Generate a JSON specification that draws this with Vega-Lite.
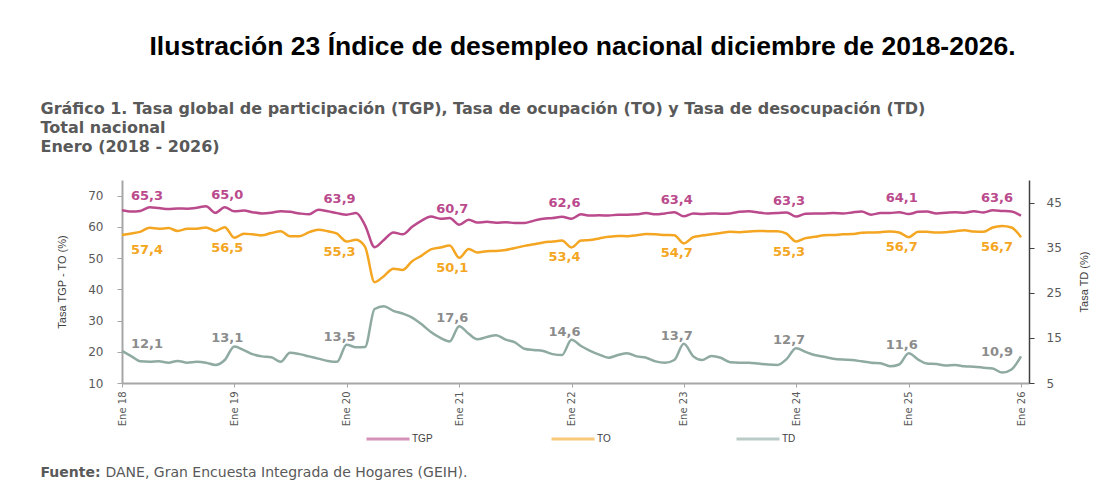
{
  "$schema": "https://vega.github.io/schema/vega-lite/v6.json",
  "width": 907,
  "height": 203,
  "autosize": {"type": "none"},
  "padding": {"left": 122, "top": 180, "right": 87, "bottom": 115},
  "background": "white",
  "config": {
    "locale": {"number": {"decimal": ",", "thousands": ".", "grouping": [3], "currency": ["$", ""]}},
    "view": {"stroke": null},
    "font": "DejaVu Sans"
  },
  "title": {
    "text": "Ilustración 23 Índice de desempleo nacional diciembre de 2018-2026.",
    "anchor": "middle", "frame": "group", "dx": 7, "offset": 40,
    "font": "Liberation Sans, sans-serif",
    "fontSize": 26.5, "fontWeight": "bold", "color": "#000000"
  },
  "data": {
    "format": {"parse": {"d": "utc:'%Y-%m-%d'"}},
    "values": [
      {"d":"2018-01-01","TGP":65.3,"TO":57.4,"TD":12.1},
      {"d":"2018-02-01","TGP":64.9,"TO":57.9,"TD":10.9},
      {"d":"2018-03-01","TGP":65.1,"TO":58.4,"TD":9.8},
      {"d":"2018-04-01","TGP":66.3,"TO":59.7,"TD":9.7},
      {"d":"2018-05-01","TGP":66.0,"TO":59.4,"TD":9.8},
      {"d":"2018-06-01","TGP":65.7,"TO":59.6,"TD":9.5},
      {"d":"2018-07-01","TGP":65.9,"TO":58.7,"TD":9.9},
      {"d":"2018-08-01","TGP":65.8,"TO":59.4,"TD":9.5},
      {"d":"2018-09-01","TGP":66.1,"TO":59.4,"TD":9.7},
      {"d":"2018-10-01","TGP":66.6,"TO":59.8,"TD":9.5},
      {"d":"2018-11-01","TGP":64.5,"TO":58.7,"TD":9.0},
      {"d":"2018-12-01","TGP":66.3,"TO":59.9,"TD":10.1},
      {"d":"2019-01-01","TGP":65.0,"TO":56.5,"TD":13.1},
      {"d":"2019-02-01","TGP":65.2,"TO":57.8,"TD":12.3},
      {"d":"2019-03-01","TGP":64.7,"TO":57.6,"TD":11.4},
      {"d":"2019-04-01","TGP":64.3,"TO":57.3,"TD":10.9},
      {"d":"2019-05-01","TGP":64.5,"TO":58.0,"TD":10.7},
      {"d":"2019-06-01","TGP":65.0,"TO":58.6,"TD":9.7},
      {"d":"2019-07-01","TGP":64.8,"TO":57.0,"TD":11.7},
      {"d":"2019-08-01","TGP":64.3,"TO":57.0,"TD":11.4},
      {"d":"2019-09-01","TGP":64.0,"TO":58.3,"TD":10.9},
      {"d":"2019-10-01","TGP":65.5,"TO":59.1,"TD":10.4},
      {"d":"2019-11-01","TGP":65.0,"TO":58.6,"TD":9.9},
      {"d":"2019-12-01","TGP":64.4,"TO":57.8,"TD":9.7},
      {"d":"2020-01-01","TGP":63.9,"TO":55.3,"TD":13.5},
      {"d":"2020-02-01","TGP":64.4,"TO":55.9,"TD":12.9},
      {"d":"2020-03-01","TGP":60.5,"TO":53.6,"TD":13.0},
      {"d":"2020-04-01","TGP":53.5,"TO":42.3,"TD":21.4},
      {"d":"2020-05-01","TGP":55.8,"TO":44.2,"TD":22.0},
      {"d":"2020-06-01","TGP":58.2,"TO":46.6,"TD":21.0},
      {"d":"2020-07-01","TGP":57.6,"TO":46.2,"TD":20.4},
      {"d":"2020-08-01","TGP":60.0,"TO":49.0,"TD":19.5},
      {"d":"2020-09-01","TGP":62.0,"TO":50.8,"TD":18.0},
      {"d":"2020-10-01","TGP":63.3,"TO":52.8,"TD":16.3},
      {"d":"2020-11-01","TGP":62.6,"TO":53.4,"TD":15.0},
      {"d":"2020-12-01","TGP":62.8,"TO":54.0,"TD":14.2},
      {"d":"2021-01-01","TGP":60.7,"TO":50.1,"TD":17.6},
      {"d":"2021-02-01","TGP":62.3,"TO":52.9,"TD":15.9},
      {"d":"2021-03-01","TGP":61.4,"TO":51.8,"TD":14.7},
      {"d":"2021-04-01","TGP":61.6,"TO":52.2,"TD":15.2},
      {"d":"2021-05-01","TGP":61.3,"TO":52.3,"TD":15.6},
      {"d":"2021-06-01","TGP":61.5,"TO":52.6,"TD":14.6},
      {"d":"2021-07-01","TGP":61.2,"TO":53.2,"TD":14.0},
      {"d":"2021-08-01","TGP":61.2,"TO":53.9,"TD":12.6},
      {"d":"2021-09-01","TGP":62.0,"TO":54.4,"TD":12.3},
      {"d":"2021-10-01","TGP":62.6,"TO":55.0,"TD":12.1},
      {"d":"2021-11-01","TGP":62.8,"TO":55.3,"TD":11.4},
      {"d":"2021-12-01","TGP":63.2,"TO":55.6,"TD":11.2},
      {"d":"2022-01-01","TGP":62.6,"TO":53.4,"TD":14.6},
      {"d":"2022-02-01","TGP":64.0,"TO":55.6,"TD":13.2},
      {"d":"2022-03-01","TGP":63.6,"TO":55.8,"TD":12.2},
      {"d":"2022-04-01","TGP":63.7,"TO":56.3,"TD":11.3},
      {"d":"2022-05-01","TGP":63.6,"TO":56.8,"TD":10.6},
      {"d":"2022-06-01","TGP":63.9,"TO":57.1,"TD":11.2},
      {"d":"2022-07-01","TGP":63.9,"TO":57.0,"TD":11.6},
      {"d":"2022-08-01","TGP":64.0,"TO":57.3,"TD":10.9},
      {"d":"2022-09-01","TGP":64.4,"TO":57.7,"TD":10.6},
      {"d":"2022-10-01","TGP":64.0,"TO":57.6,"TD":9.8},
      {"d":"2022-11-01","TGP":64.3,"TO":57.4,"TD":9.5},
      {"d":"2022-12-01","TGP":64.7,"TO":57.3,"TD":10.1},
      {"d":"2023-01-01","TGP":63.4,"TO":54.7,"TD":13.7},
      {"d":"2023-02-01","TGP":64.3,"TO":56.7,"TD":10.9},
      {"d":"2023-03-01","TGP":64.1,"TO":57.2,"TD":10.1},
      {"d":"2023-04-01","TGP":64.3,"TO":57.6,"TD":11.0},
      {"d":"2023-05-01","TGP":64.2,"TO":58.0,"TD":10.6},
      {"d":"2023-06-01","TGP":64.3,"TO":58.4,"TD":9.6},
      {"d":"2023-07-01","TGP":64.8,"TO":58.3,"TD":9.5},
      {"d":"2023-08-01","TGP":65.0,"TO":58.5,"TD":9.5},
      {"d":"2023-09-01","TGP":64.6,"TO":58.7,"TD":9.3},
      {"d":"2023-10-01","TGP":64.3,"TO":58.6,"TD":9.1},
      {"d":"2023-11-01","TGP":64.4,"TO":58.6,"TD":9.0},
      {"d":"2023-12-01","TGP":64.6,"TO":57.8,"TD":10.3},
      {"d":"2024-01-01","TGP":63.3,"TO":55.3,"TD":12.7},
      {"d":"2024-02-01","TGP":64.2,"TO":56.4,"TD":11.9},
      {"d":"2024-03-01","TGP":64.3,"TO":56.8,"TD":11.2},
      {"d":"2024-04-01","TGP":64.3,"TO":57.3,"TD":10.8},
      {"d":"2024-05-01","TGP":64.4,"TO":57.4,"TD":10.4},
      {"d":"2024-06-01","TGP":64.3,"TO":57.6,"TD":10.2},
      {"d":"2024-07-01","TGP":64.6,"TO":57.7,"TD":10.1},
      {"d":"2024-08-01","TGP":64.9,"TO":58.1,"TD":9.8},
      {"d":"2024-09-01","TGP":63.9,"TO":58.2,"TD":9.5},
      {"d":"2024-10-01","TGP":64.4,"TO":58.3,"TD":9.4},
      {"d":"2024-11-01","TGP":64.4,"TO":58.5,"TD":8.7},
      {"d":"2024-12-01","TGP":64.7,"TO":58.2,"TD":9.1},
      {"d":"2025-01-01","TGP":64.1,"TO":56.7,"TD":11.6},
      {"d":"2025-02-01","TGP":64.8,"TO":58.4,"TD":10.2},
      {"d":"2025-03-01","TGP":64.9,"TO":58.4,"TD":9.3},
      {"d":"2025-04-01","TGP":64.3,"TO":58.2,"TD":9.2},
      {"d":"2025-05-01","TGP":64.5,"TO":58.3,"TD":8.9},
      {"d":"2025-06-01","TGP":64.7,"TO":58.6,"TD":9.0},
      {"d":"2025-07-01","TGP":64.5,"TO":58.9,"TD":8.7},
      {"d":"2025-08-01","TGP":65.0,"TO":58.5,"TD":8.6},
      {"d":"2025-09-01","TGP":64.6,"TO":58.4,"TD":8.4},
      {"d":"2025-10-01","TGP":65.3,"TO":59.8,"TD":8.2},
      {"d":"2025-11-01","TGP":65.1,"TO":60.3,"TD":7.3},
      {"d":"2025-12-01","TGP":64.9,"TO":59.8,"TD":8.0},
      {"d":"2026-01-01","TGP":63.6,"TO":56.7,"TD":10.9}
    ]
  },
  "resolve": {"scale": {"y": "independent"}, "axis": {"x": "independent", "y": "independent"}},
  "layer": [
    {
      "transform": [{"fold": ["TGP", "TO"], "as": ["s", "v"]}],
      "mark": {"type": "line", "strokeWidth": 2.5, "interpolate": "monotone"},
      "encoding": {
        "x": {"field": "d", "type": "temporal",
          "scale": {"type": "utc", "domain": [{"year": 2018, "month": 1, "date": 1, "utc": true}, {"year": 2026, "month": 1, "date": 27, "utc": true}]},
          "axis": {"orient": "bottom", "title": null, "grid": false,
            "values": [{"year":2018,"month":1,"date":1,"utc":true},{"year":2019,"month":1,"date":1,"utc":true},{"year":2020,"month":1,"date":1,"utc":true},{"year":2021,"month":1,"date":1,"utc":true},{"year":2022,"month":1,"date":1,"utc":true},{"year":2023,"month":1,"date":1,"utc":true},{"year":2024,"month":1,"date":1,"utc":true},{"year":2025,"month":1,"date":1,"utc":true},{"year":2026,"month":1,"date":1,"utc":true}],
            "format": "Ene %y", "labelAngle": 270, "labelFontSize": 10, "labelColor": "#595959",
            "labelPadding": 4, "tickSize": 4, "tickColor": "#A6A6A6", "domainColor": "#A6A6A6", "domainWidth": 2,
            "labelFont": "DejaVu Sans"}},
        "y": {"field": "v", "type": "quantitative", "scale": {"domain": [10, 75], "nice": false, "zero": false},
          "axis": {"orient": "left", "values": [10, 20, 30, 40, 50, 60, 70], "title": "Tasa TGP - TO (%)",
            "titleFont": "Liberation Sans, sans-serif", "titleFontSize": 11,
            "titleFontWeight": "normal", "titleColor": "#404040", "titlePadding": 20,
            "labelFontSize": 12, "labelColor": "#595959", "labelPadding": 14, "tickSize": 5,
            "tickColor": "#A6A6A6", "domainColor": "#A6A6A6", "domainWidth": 2, "grid": false}},
        "color": {"field": "s", "type": "nominal",
          "scale": {"domain": ["TGP", "TO", "TD"], "range": ["#BA4A8C", "#F4A622", "#8FAAA2"]},
          "legend": {"orient": "none", "legendX": 243, "legendY": 236, "direction": "horizontal", "title": null,
            "symbolType": "stroke", "symbolSize": 1849, "symbolStrokeWidth": 3, "symbolOpacity": 0.6,
            "labelFontSize": 10, "labelColor": "#404040", "labelOffset": 1, "columnPadding": 112, "gridAlign": "all",
            "labelFont": "Liberation Sans, sans-serif"}}
      }
    },
    {
      "transform": [{"fold": ["TD"], "as": ["s", "v"]}],
      "mark": {"type": "line", "strokeWidth": 2.5, "interpolate": "monotone"},
      "encoding": {
        "x": {"field": "d", "type": "temporal", "axis": null},
        "y": {"field": "v", "type": "quantitative", "scale": {"domain": [5, 50], "nice": false, "zero": false},
          "axis": {"orient": "right", "values": [5, 15, 25, 35, 45], "title": "Tasa TD (%)", "titleAngle": 270,
            "titleFont": "Liberation Sans, sans-serif", "titleFontSize": 11,
            "titleFontWeight": "normal", "titleColor": "#404040", "titlePadding": 28,
            "labelFontSize": 12, "labelColor": "#595959", "labelPadding": 12, "tickSize": 5,
            "tickColor": "#404040", "domainColor": "#404040", "domainWidth": 1.5, "grid": false}},
        "color": {"field": "s", "type": "nominal"}
      }
    },
    {
      "transform": [{"filter": "utcmonth(datum.d) == 0 && utcyear(datum.d) > 2018 && utcyear(datum.d) < 2026"}],
      "mark": {"type": "text", "dx": -7, "dy": -16, "fontSize": 13, "fontWeight": "bold", "color": "#BA4A8C", "font": "DejaVu Sans"},
      "encoding": {
        "x": {"field": "d", "type": "temporal",
          "axis": {"orient": "top", "domain": false, "ticks": false, "labels": false, "grid": false,
            "title": ["Gráfico 1. Tasa global de participación (TGP), Tasa de ocupación (TO) y Tasa de desocupación (TD)", "Total nacional", "Enero (2018 - 2026)"],
            "titleAnchor": "start", "titleAlign": "left", "titleX": -82, "titleY": -80, "titleBaseline": "top",
            "titleFont": "DejaVu Sans", "titleFontSize": 16, "titleFontWeight": "bold", "titleColor": "#595959", "titleLineHeight": 19}},
        "y": {"field": "TGP", "type": "quantitative", "scale": {"domain": [10, 75], "nice": false, "zero": false}, "axis": null},
        "text": {"field": "TGP", "type": "quantitative", "format": ".1f"}
      }
    },
    {
      "transform": [{"filter": "utcmonth(datum.d) == 0 && utcyear(datum.d) > 2018 && utcyear(datum.d) < 2026"}],
      "mark": {"type": "text", "dx": -7, "dy": 10, "fontSize": 13, "fontWeight": "bold", "color": "#F4A622", "font": "DejaVu Sans"},
      "encoding": {
        "x": {"field": "d", "type": "temporal",
          "axis": {"orient": "bottom", "domain": false, "ticks": false, "labels": false, "grid": false,
            "title": "Fuente:", "titleAnchor": "start", "titleAlign": "left", "titleX": -82, "titleY": 89, "titleBaseline": "middle",
            "titleFont": "DejaVu Sans", "titleFontSize": 14, "titleFontWeight": "bold", "titleColor": "#595959"}},
        "y": {"field": "TO", "type": "quantitative", "scale": {"domain": [10, 75], "nice": false, "zero": false}, "axis": null},
        "text": {"field": "TO", "type": "quantitative", "format": ".1f"}
      }
    },
    {
      "transform": [{"filter": "utcmonth(datum.d) == 0 && utcyear(datum.d) > 2018 && utcyear(datum.d) < 2026"}],
      "mark": {"type": "text", "dx": -7, "dy": -8, "fontSize": 13, "fontWeight": "bold", "color": "#8C8C8C", "font": "DejaVu Sans"},
      "encoding": {
        "x": {"field": "d", "type": "temporal",
          "axis": {"orient": "bottom", "domain": false, "ticks": false, "labels": false, "grid": false,
            "title": "DANE, Gran Encuesta Integrada de Hogares (GEIH).", "titleAnchor": "start", "titleAlign": "left", "titleX": -17, "titleY": 89, "titleBaseline": "middle",
            "titleFont": "DejaVu Sans", "titleFontSize": 14, "titleFontWeight": "normal", "titleColor": "#595959"}},
        "y": {"field": "TD", "type": "quantitative", "scale": {"domain": [5, 50], "nice": false, "zero": false}, "axis": null},
        "text": {"field": "TD", "type": "quantitative", "format": ".1f"}
      }
    },
    {
      "transform": [{"filter": "utcmonth(datum.d) == 0 && utcyear(datum.d) == 2018"}],
      "mark": {"type": "text", "dx": 25, "dy": -14, "fontSize": 13, "fontWeight": "bold", "color": "#BA4A8C", "font": "DejaVu Sans"},
      "encoding": {
        "x": {"field": "d", "type": "temporal", "axis": null},
        "y": {"field": "TGP", "type": "quantitative", "scale": {"domain": [10, 75], "nice": false, "zero": false}, "axis": null},
        "text": {"field": "TGP", "type": "quantitative", "format": ".1f"}
      }
    },
    {
      "transform": [{"filter": "utcmonth(datum.d) == 0 && utcyear(datum.d) == 2018"}],
      "mark": {"type": "text", "dx": 25, "dy": 15, "fontSize": 13, "fontWeight": "bold", "color": "#F4A622", "font": "DejaVu Sans"},
      "encoding": {
        "x": {"field": "d", "type": "temporal", "axis": null},
        "y": {"field": "TO", "type": "quantitative", "scale": {"domain": [10, 75], "nice": false, "zero": false}, "axis": null},
        "text": {"field": "TO", "type": "quantitative", "format": ".1f"}
      }
    },
    {
      "transform": [{"filter": "utcmonth(datum.d) == 0 && utcyear(datum.d) == 2018"}],
      "mark": {"type": "text", "dx": 25, "dy": -7, "fontSize": 13, "fontWeight": "bold", "color": "#8C8C8C", "font": "DejaVu Sans"},
      "encoding": {
        "x": {"field": "d", "type": "temporal", "axis": null},
        "y": {"field": "TD", "type": "quantitative", "scale": {"domain": [5, 50], "nice": false, "zero": false}, "axis": null},
        "text": {"field": "TD", "type": "quantitative", "format": ".1f"}
      }
    },
    {
      "transform": [{"filter": "utcmonth(datum.d) == 0 && utcyear(datum.d) == 2026"}],
      "mark": {"type": "text", "dx": -24, "dy": -18, "fontSize": 13, "fontWeight": "bold", "color": "#BA4A8C", "font": "DejaVu Sans"},
      "encoding": {
        "x": {"field": "d", "type": "temporal", "axis": null},
        "y": {"field": "TGP", "type": "quantitative", "scale": {"domain": [10, 75], "nice": false, "zero": false}, "axis": null},
        "text": {"field": "TGP", "type": "quantitative", "format": ".1f"}
      }
    },
    {
      "transform": [{"filter": "utcmonth(datum.d) == 0 && utcyear(datum.d) == 2026"}],
      "mark": {"type": "text", "dx": -24, "dy": 10, "fontSize": 13, "fontWeight": "bold", "color": "#F4A622", "font": "DejaVu Sans"},
      "encoding": {
        "x": {"field": "d", "type": "temporal", "axis": null},
        "y": {"field": "TO", "type": "quantitative", "scale": {"domain": [10, 75], "nice": false, "zero": false}, "axis": null},
        "text": {"field": "TO", "type": "quantitative", "format": ".1f"}
      }
    },
    {
      "transform": [{"filter": "utcmonth(datum.d) == 0 && utcyear(datum.d) == 2026"}],
      "mark": {"type": "text", "dx": -24, "dy": -4, "fontSize": 13, "fontWeight": "bold", "color": "#8C8C8C", "font": "DejaVu Sans"},
      "encoding": {
        "x": {"field": "d", "type": "temporal", "axis": null},
        "y": {"field": "TD", "type": "quantitative", "scale": {"domain": [5, 50], "nice": false, "zero": false}, "axis": null},
        "text": {"field": "TD", "type": "quantitative", "format": ".1f"}
      }
    }
  ]
}
